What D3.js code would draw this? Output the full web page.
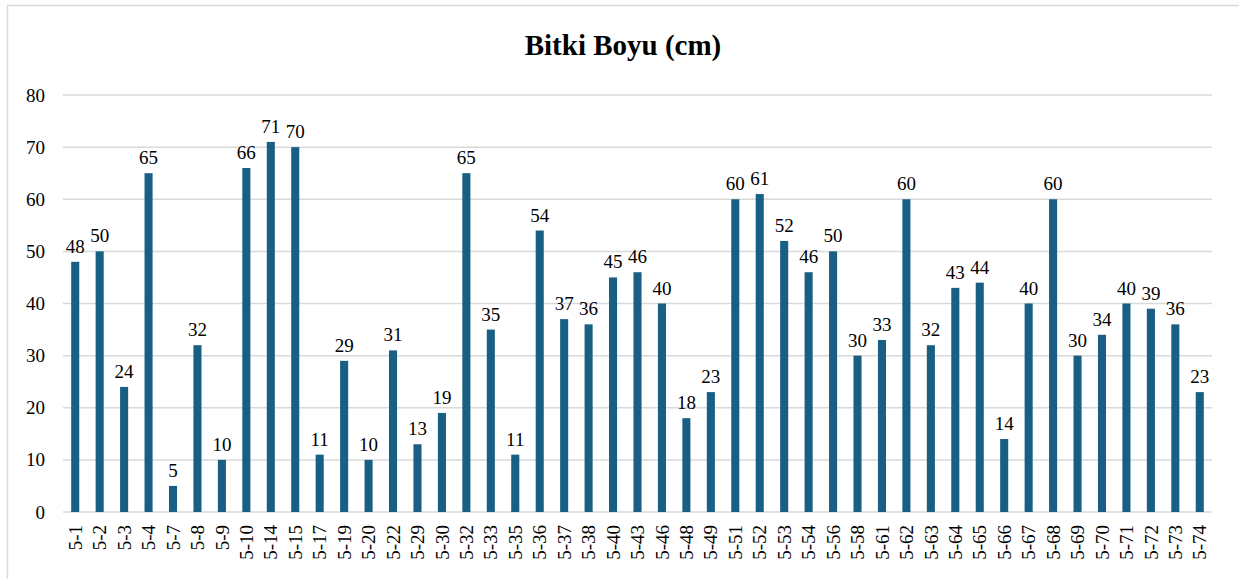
<!DOCTYPE html>
<html>
<head>
<meta charset="utf-8">
<script src="https://cdn.jsdelivr.net/npm/d3@7"></script>
<style>
  body { margin: 0; background: #fff; }
</style>
</head>
<body>
<div id="chart"></div>
<script>
const width = 1239;
const height = 579;
const fontSerif = "'Liberation Serif', 'DejaVu Serif', 'Times New Roman', Times, serif";

// datos
const categories = ['5-1', '5-2', '5-3', '5-4', '5-7', '5-8', '5-9', '5-10', '5-14', '5-15',
  '5-17', '5-19', '5-20', '5-22', '5-29', '5-30', '5-32', '5-33', '5-35', '5-36',
  '5-37', '5-38', '5-40', '5-43', '5-46', '5-48', '5-49', '5-51', '5-52', '5-53',
  '5-54', '5-56', '5-58', '5-61', '5-62', '5-63', '5-64', '5-65', '5-66', '5-67',
  '5-68', '5-69', '5-70', '5-71', '5-72', '5-73', '5-74'];
const boyu = [48, 50, 24, 65, 5, 32, 10, 66, 71, 70,
  11, 29, 10, 31, 13, 19, 65, 35, 11, 54,
  37, 36, 45, 46, 40, 18, 23, 60, 61, 52,
  46, 50, 30, 33, 60, 32, 43, 44, 14, 40,
  60, 30, 34, 40, 39, 36, 23];
const yTicks = [0, 10, 20, 30, 40, 50, 60, 70, 80];
const title = 'Bitki Boyu (cm)';

const plotLeft = 63;
const plotRight = 1212;
const plotTop = 95;
const plotBottom = 512;

const svg = d3.select('#chart')
  .append('svg')
  .attr('width', width)
  .attr('height', height)
  .style('font-family', fontSerif);

// marco
svg.append('rect')
  .attr('x', 7.5)
  .attr('y', 5.5)
  .attr('width', width + 10)
  .attr('height', height + 10)
  .attr('fill', 'none')
  .attr('stroke', '#d9d9d9')
  .attr('stroke-width', 1.5);

const xScale = d3.scaleBand()
  .domain(categories)
  .range([plotLeft, plotRight])
  .paddingInner(0.67)
  .paddingOuter(0.335);

const yScale = d3.scaleLinear()
  .domain([0, 80])
  .range([plotBottom, plotTop]);

// rejilla
svg.append('g')
  .selectAll('line')
  .data(yTicks)
  .enter()
  .append('line')
  .attr('x1', plotLeft)
  .attr('x2', plotRight)
  .attr('y1', d => yScale(d))
  .attr('y2', d => yScale(d))
  .attr('stroke', '#d9d9d9')
  .attr('stroke-width', 1.5);

// eje Y
const yAxis = svg.append('g')
  .attr('transform', `translate(${plotLeft - 18}, 0)`)
  .call(d3.axisLeft(yScale).tickValues(yTicks).tickSize(0).tickPadding(0));
yAxis.attr('font-family', null).attr('font-size', null);
yAxis.select('.domain').remove();
yAxis.selectAll('text')
  .style('font-family', fontSerif)
  .style('font-size', '19px')
  .attr('fill', '#000');

// barras
svg.append('g')
  .selectAll('.bar')
  .data(boyu)
  .enter()
  .append('rect')
  .attr('class', 'bar')
  .attr('x', (d, i) => xScale(categories[i]))
  .attr('y', d => yScale(d))
  .attr('width', xScale.bandwidth())
  .attr('height', d => plotBottom - yScale(d))
  .attr('fill', '#195e83');

// etiquetas
svg.append('g')
  .selectAll('.labelbar')
  .data(boyu)
  .enter()
  .append('text')
  .attr('class', 'labelbar')
  .attr('x', (d, i) => xScale(categories[i]) + xScale.bandwidth() / 2)
  .attr('y', d => yScale(d) - 9)
  .attr('text-anchor', 'middle')
  .style('font-family', fontSerif)
  .style('font-size', '19px')
  .text(d => d);

// eje X
const xAxis = svg.append('g')
  .attr('transform', `translate(0, ${plotBottom})`)
  .call(d3.axisBottom(xScale).tickSize(0).tickPadding(0));
xAxis.attr('font-family', null).attr('font-size', null);
xAxis.select('.domain').remove();
xAxis.selectAll('text')
  .style('font-family', fontSerif)
  .style('font-size', '19px')
  .attr('fill', '#000')
  .attr('text-anchor', 'end')
  .attr('dy', '0.35em')
  .attr('transform', 'translate(0, 13) rotate(-90)');

// titulo
svg.append('text')
  .attr('x', 623)
  .attr('y', 55)
  .attr('text-anchor', 'middle')
  .style('font-family', fontSerif)
  .style('font-size', '29px')
  .style('font-weight', 'bold')
  .text(title);
</script>
</body>
</html>
